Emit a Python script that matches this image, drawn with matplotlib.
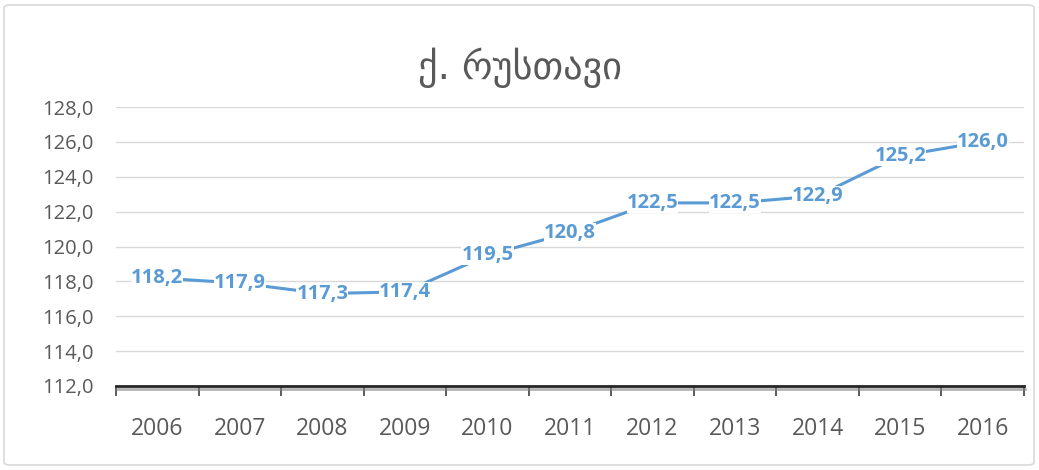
import matplotlib
matplotlib.use("Agg")
import matplotlib.pyplot as plt
from matplotlib.patches import FancyBboxPatch
import matplotlib.patheffects as pe

years = ["2006", "2007", "2008", "2009", "2010", "2011", "2012", "2013", "2014", "2015", "2016"]
values = [118.2, 117.9, 117.3, 117.4, 119.5, 120.8, 122.5, 122.5, 122.9, 125.2, 126.0]
yticks = [112, 114, 116, 118, 120, 122, 124, 126, 128]
title = "ქ. რუსთავი"

W, H = 1039, 470
fig = plt.figure(figsize=(W / 100, H / 100), dpi=100)
fig.patch.set_facecolor("white")

border = FancyBboxPatch((4 / W, 5 / H), (W - 9) / W, (H - 10) / H,
                        boxstyle="round,pad=0,rounding_size=0.006",
                        transform=fig.transFigure, facecolor="none",
                        edgecolor="#d9d9d9", linewidth=1.2)
fig.patches.append(border)

ax = fig.add_axes([116 / W, 1 - 386 / H, (1024 - 116) / W, (386 - 107) / H])
ax.set_facecolor("white")

x = list(range(len(years)))
ax.plot(x, values, color="#5B9BD5", linewidth=2.2, solid_capstyle="round", zorder=3)

font = ["Open Sans", "DejaVu Sans"]
for xi, v in zip(x, values):
    s = f"{v:.1f}".replace(".", ",")
    ax.text(xi, v, s, ha="center", va="center", fontsize=14.5, fontweight="bold",
            color="#5B9BD5", family=font, zorder=4,
            bbox=dict(boxstyle="square,pad=0.0", facecolor="white", edgecolor="none"))

ax.set_xlim(-0.5, len(years) - 0.5)
ax.set_ylim(112, 128)
ax.set_yticks(yticks)
ax.set_yticklabels([f"{t:.1f}".replace(".", ",") for t in yticks],
                   fontsize=14.5, color="#595959", family=font)
ax.tick_params(axis="y", length=0, pad=16)
ax.grid(axis="y", color="#d9d9d9", linewidth=1)
ax.set_axisbelow(True)

ax.set_xticks(x)
ax.set_xticklabels(years, fontsize=16.5, color="#595959", family=font)
ax.tick_params(axis="x", which="major", length=0, pad=22)
ax.set_xticks([i - 0.5 for i in range(len(years) + 1)], minor=True)
ax.tick_params(axis="x", which="minor", length=7, width=1.2, color="#404040", direction="out")

for s in ["top", "right", "left"]:
    ax.spines[s].set_visible(False)
ax.spines["bottom"].set_color("#262626")
ax.spines["bottom"].set_linewidth(2.0)
ax.spines["bottom"].set_path_effects([pe.SimpleLineShadow(offset=(1, -2), shadow_color="#808080", alpha=0.6),
                                      pe.Normal()])

fig.text(0.5, 1 - 68 / H, title, ha="center", va="center",
         fontsize=27.5, color="#595959", family=["DejaVu Sans"])

fig.savefig("out.png", dpi=100, facecolor="white")
